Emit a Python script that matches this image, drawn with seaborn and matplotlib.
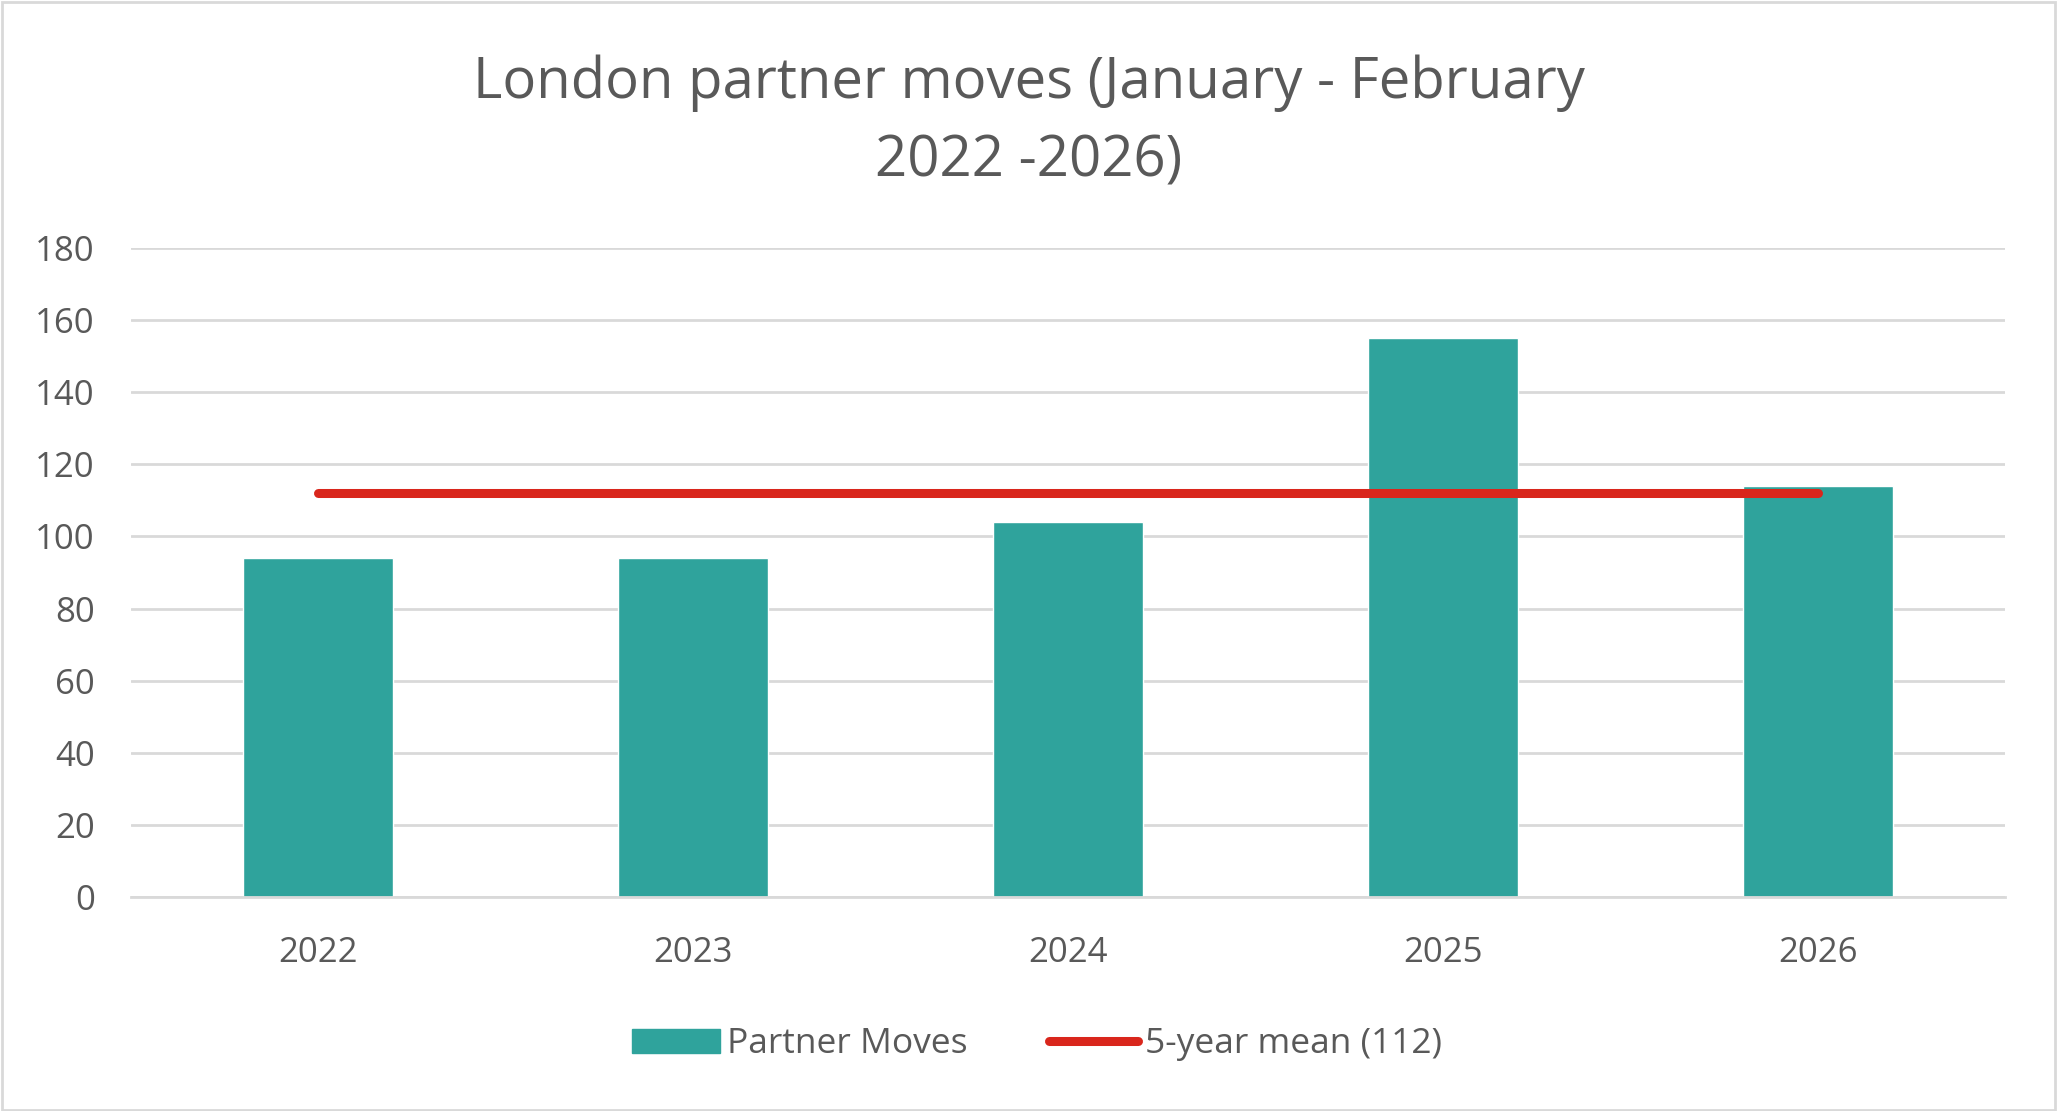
import pandas as pd
import matplotlib.pyplot as plt
import matplotlib.patches as mpatches
from matplotlib.lines import Line2D
import seaborn as sns

# values
years = ['2022', '2023', '2024', '2025', '2026']
partner_moves = [94, 94, 104, 155, 114]
mean_value = 112
mean_line = [mean_value] * len(years)

df = pd.DataFrame({'year': years, 'moves': partner_moves})

bar_color = '#2FA39C'
line_color = '#D9261C'
text_color = '#595959'
grid_color = '#D9D9D9'

sns.set_theme(style='white')
plt.rcParams['font.family'] = ['Open Sans', 'DejaVu Sans']

fig = plt.figure(figsize=(20.57, 11.11), dpi=100)
ax = fig.add_axes([0.0637, 0.1926, 0.911, 0.5842])

sns.barplot(data=df, x='year', y='moves', color=bar_color, width=0.4,
            saturation=1, ax=ax, zorder=2)
ax.plot(range(len(years)), mean_line, color=line_color, linewidth=6.5,
        solid_capstyle='round', zorder=3)

ax.set_xlim(-0.5, len(years) - 0.5)
ax.set_ylim(0, 180)
ax.set_yticks(range(0, 181, 20))
ax.yaxis.grid(True, color=grid_color, linewidth=2)
ax.set_axisbelow(True)
for s in ['top', 'right', 'left']:
    ax.spines[s].set_visible(False)
ax.spines['bottom'].set_color(grid_color)
ax.spines['bottom'].set_linewidth(2)
ax.tick_params(axis='y', length=0, pad=26, labelsize=25, labelcolor=text_color)
ax.tick_params(axis='x', length=0, pad=28, labelsize=25, labelcolor=text_color)
ax.set_xlabel('')
ax.set_ylabel('')

fig.text(0.5, 0.89, 'London partner moves (January - February\n2022 -2026)',
         ha='center', va='center', fontsize=40.5, color=text_color,
         linespacing=1.5)

handles = [mpatches.Patch(color=bar_color, label='Partner Moves'),
           Line2D([0], [0], color=line_color, linewidth=6.5,
                  solid_capstyle='round', label='5-year mean (112)')]
leg = fig.legend(handles=handles, loc='center', bbox_to_anchor=(0.504, 0.06),
                 ncol=2, frameon=False, fontsize=25.5, handlelength=2.5,
                 handleheight=0.7, columnspacing=2.3, handletextpad=0.2)
for t in leg.get_texts():
    t.set_color(text_color)

border = mpatches.Rectangle((0.001, 0.001), 0.998, 0.997, transform=fig.transFigure,
                            fill=False, edgecolor=grid_color, linewidth=2)
fig.patches.append(border)

plt.savefig('out.png', dpi=100)
